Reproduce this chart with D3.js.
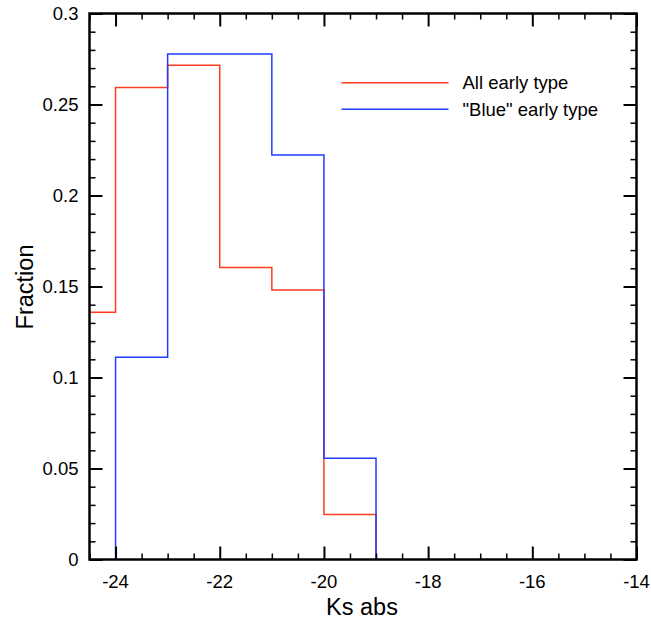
<!DOCTYPE html>
<html>
<head>
<meta charset="utf-8">
<script src="https://cdn.jsdelivr.net/npm/d3@7"></script>
<style>
html,body{margin:0;padding:0;background:#fff;}
svg{display:block;font-family:"Liberation Sans",Arial,Helvetica,sans-serif;}
</style>
</head>
<body>
<svg id="chart" width="651" height="619"></svg>
<script>
// Bin edges (Ks abs) and fractions
const allEdges = [-24.5, -24, -23, -22, -21, -20, -19];
const allValues = [0.1358, 0.2593, 0.2716, 0.1605, 0.1481, 0.0247];
const blueEdges = [-24, -23, -22, -21, -20, -19];
const blueValues = [0.1111, 0.2778, 0.2778, 0.2222, 0.0556];
const xTicks = [-24, -22, -20, -18, -16, -14];
const xTickLabels = ["-24", "-22", "-20", "-18", "-16", "-14"];
const yTicks = [0, 0.05, 0.1, 0.15, 0.2, 0.25, 0.3];
const yTickLabels = ["0", "0.05", "0.1", "0.15", "0.2", "0.25", "0.3"];
const seriesNames = ["All early type", "\"Blue\" early type"];
const seriesColors = ["#ff3d1f", "#1f3cff"];

const svg = d3.select("#chart");
const L = 89.5, R = 636.5, T = 13.5, B = 559.5;
const x = d3.scaleLinear().domain([-24.5, -14]).range([L, R]);
const y = d3.scaleLinear().domain([0, 0.3]).range([B, T]);

function stepPath(edges, values, startFromZero, endAtZero) {
  const pts = [];
  if (startFromZero) pts.push([x(edges[0]), y(0)]);
  for (let i = 0; i < values.length; i++) {
    pts.push([x(edges[i]), y(values[i])]);
    pts.push([x(edges[i + 1]), y(values[i])]);
  }
  if (endAtZero) pts.push([x(edges[edges.length - 1]), y(0)]);
  return d3.line()(pts);
}

svg.append("path").attr("d", stepPath(allEdges, allValues, false, true))
  .attr("fill", "none").attr("stroke", seriesColors[0]).attr("stroke-width", 1.5);
svg.append("path").attr("d", stepPath(blueEdges, blueValues, true, true))
  .attr("fill", "none").attr("stroke", seriesColors[1]).attr("stroke-width", 1.5);

const xMinor = d3.range(-24.5, -13.99, 0.5).filter(v => !xTicks.some(t => Math.abs(t - v) < 1e-6));
const yMinor = d3.range(0, 0.3001, 0.01).filter(v => !yTicks.some(t => Math.abs(t - v) < 1e-6));

function addAxis(axisFn, scale, ticks, size, transform, sw) {
  const g = svg.append("g").attr("transform", transform)
    .call(axisFn(scale).tickValues(ticks).tickSize(size).tickFormat(""));
  g.select(".domain").remove();
  g.selectAll(".tick line").attr("stroke", "#000").attr("stroke-width", sw);
  return g;
}
addAxis(d3.axisBottom, x, xTicks, -13, `translate(0,${B})`, 2);
addAxis(d3.axisBottom, x, xMinor, -6, `translate(0,${B})`, 1.5);
addAxis(d3.axisTop, x, xTicks, -13, `translate(0,${T})`, 2);
addAxis(d3.axisTop, x, xMinor, -6, `translate(0,${T})`, 1.5);
addAxis(d3.axisLeft, y, yTicks, -13, `translate(${L},0)`, 2);
addAxis(d3.axisLeft, y, yMinor, -6, `translate(${L},0)`, 1.5);
addAxis(d3.axisRight, y, yTicks, -13, `translate(${R},0)`, 2);
addAxis(d3.axisRight, y, yMinor, -6, `translate(${R},0)`, 1.5);

svg.append("rect").attr("x", L).attr("y", T).attr("width", R - L).attr("height", B - T)
  .attr("fill", "none").attr("stroke", "#000").attr("stroke-width", 2.5);

svg.selectAll(".xl").data(xTicks).enter().append("text")
  .attr("x", d => x(d)).attr("y", 588).attr("text-anchor", "middle")
  .attr("font-size", 18.5).attr("fill", "#000").text((d, i) => xTickLabels[i]);
svg.selectAll(".yl").data(yTicks).enter().append("text")
  .attr("x", 78.5).attr("y", d => y(d) + 6.5).attr("text-anchor", "end")
  .attr("font-size", 18.5).attr("fill", "#000").text((d, i) => yTickLabels[i]);

svg.append("text").attr("x", 362).attr("y", 615).attr("text-anchor", "middle")
  .attr("font-size", 23.5).text("Ks abs");
svg.append("text").attr("transform", "translate(33,287) rotate(-90)").attr("text-anchor", "middle")
  .attr("font-size", 23.5).text("Fraction");

const lg = svg.append("g");
seriesNames.forEach((n, i) => {
  const yy = 82.7 + i * 26.6;
  lg.append("line").attr("x1", 341.5).attr("x2", 448.5).attr("y1", yy).attr("y2", yy)
    .attr("stroke", seriesColors[i]).attr("stroke-width", 1.5);
  lg.append("text").attr("x", 462.5).attr("y", yy + 6.5).attr("font-size", 18.5).text(n);
});
</script>
</body>
</html>
